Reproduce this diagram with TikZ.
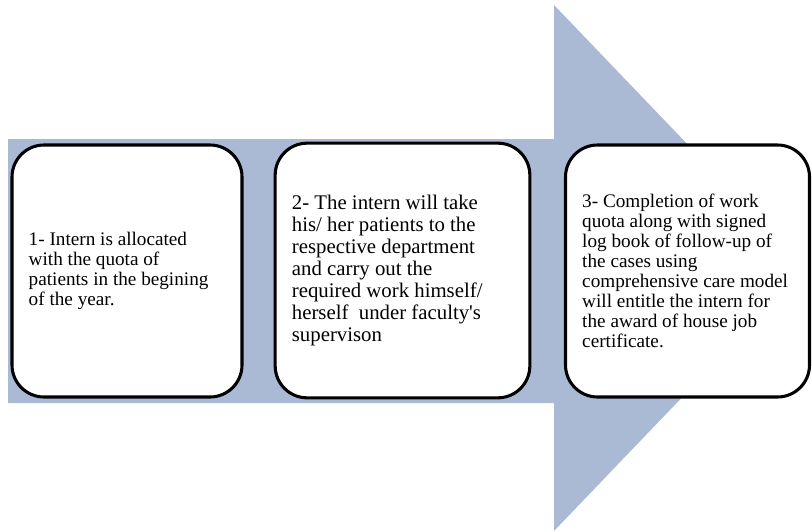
\documentclass[tikz,border=0pt]{standalone}
\usepackage{fontspec}
\setmainfont{Liberation Serif}
\usepackage{tikz}
\usetikzlibrary{shapes,positioning}
\definecolor{flowBlue}{RGB}{171,186,212}

\tikzset{
    stepbox/.style={draw=black, line width=2.3pt, fill=white, rounded corners=24pt},
    steptext/.style={anchor=west, align=left, inner sep=0pt, font=\fontsize{14.4}{15}\selectfont}
}

\begin{document}
\begin{tikzpicture}[x=0.75pt, y=-0.75pt]
    \useasboundingbox (0,0) rectangle (812,531);

    % Big arrow behind the steps
    \fill[flowBlue] (8,139) -- (554,139) -- (554,5) -- (806,268) -- (554,531) -- (554,403) -- (8,403) -- cycle;

    % Steps
    \node[stepbox, minimum width=172.5pt, minimum height=189pt] (b1) at (127,271) {};
    \node[stepbox, minimum width=191pt, minimum height=191pt] (b2) at (402.5,270.5) {};
    \node[stepbox, minimum width=183pt, minimum height=189pt] (b3) at (687.5,271) {};

    % Texts
    \node[steptext, xshift=13.5pt] (t1) at (b1.west) {1- Intern is allocated\\with the quota of\\patients in the begining\\of the year.};
    \node[steptext, xshift=13.5pt, font=\fontsize{15.6}{16.5}\selectfont] (t2) at (b2.west) {2- The intern will take\\his/ her patients to the\\respective department\\and carry out the\\required work himself/\\herself\ \ under faculty\textquotesingle s\\supervison};
    \node[steptext, xshift=13.5pt] (t3) at (b3.west) {3- Completion of work\\quota along with signed\\log book of follow-up of\\the cases using\\comprehensive care model\\will entitle the intern for\\the award of house job\\certificate.};
\end{tikzpicture}
\end{document}
